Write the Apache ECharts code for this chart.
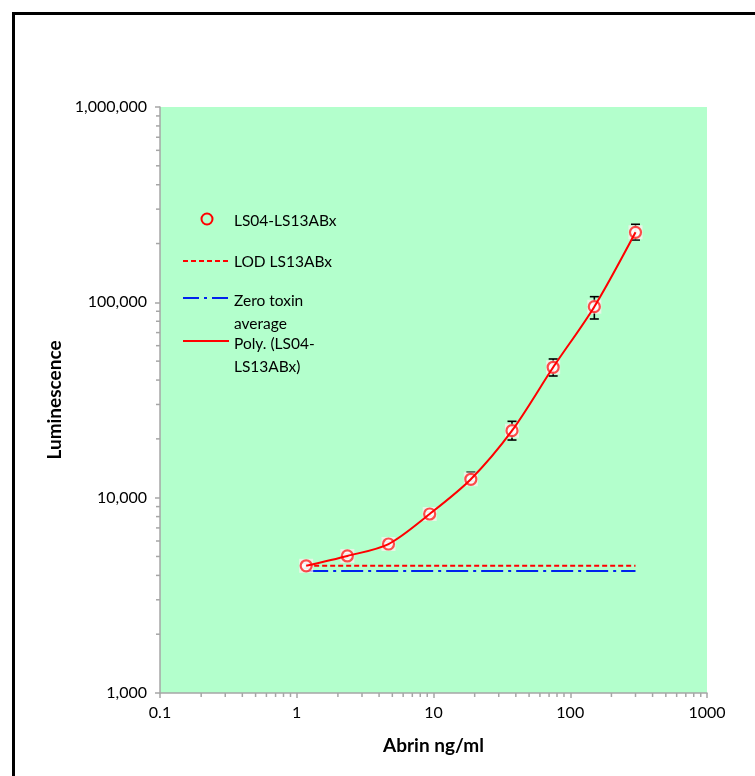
<!DOCTYPE html>
<html>
<head>
<meta charset="utf-8">
<script src="https://cdn.jsdelivr.net/npm/echarts@6/dist/echarts.min.js"></script>
<style>
html,body{margin:0;padding:0;background:#fff;}
#chart{width:755px;height:776px;}
</style>
</head>
<body>
<div id="chart"></div>
<script>
// ---- Data ----
const abrinNgMl = [1.171875, 2.34375, 4.6875, 9.375, 18.75, 37.5, 75, 150, 300];
const luminescence = [4480, 5030, 5790, 8250, 12420, 22020, 46500, 95000, 228300];
const errorLow = [4350, 4900, 5650, 8050, 12150, 19730, 41970, 82180, 208500];
const errorHigh = [4620, 5160, 5940, 8450, 13490, 24600, 51280, 106900, 250900];
const lodValue = 4480;
const zeroToxinValue = 4210;
const xMinorTicks = [0.2,0.3,0.4,0.5,0.6,0.7,0.8,0.9,2,3,4,5,6,7,8,9,20,30,40,50,60,70,80,90,200,300,400,500,600,700,800,900];
const yMinorTicks = [2000,3000,4000,5000,6000,7000,8000,9000,20000,30000,40000,50000,60000,70000,80000,90000,200000,300000,400000,500000,600000,700000,800000,900000];
const seriesName = 'LS04-LS13ABx';
const lodName = 'LOD LS13ABx';
const zeroName = 'Zero toxin average';
const trendName = 'Poly. (LS04-LS13ABx)';

const pointData = abrinNgMl.map((x, i) => [x, luminescence[i]]);
const errData = abrinNgMl.map((x, i) => [x, errorLow[i], errorHigh[i]]);
const x0 = abrinNgMl[0], x1 = abrinNgMl[abrinNgMl.length - 1];
const lodData = [[x0, lodValue], [x1, lodValue]];
const zeroData = [[x0, zeroToxinValue], [x1, zeroToxinValue]];

const FONT = 'Lato, "Open Sans", sans-serif';
const axisGrey = '#a6a6a6';

const chart = echarts.init(document.getElementById('chart'), null, {renderer: 'canvas'});
const option = {
  backgroundColor: '#ffffff',
  animation: false,
  grid: {left: 160, top: 107, width: 547, height: 586, show: true, backgroundColor: '#b3ffcc', borderWidth: 0},
  xAxis: {
    type: 'log', logBase: 10, min: 0.1, max: 1000,
    name: 'Abrin ng/ml', nameLocation: 'middle', nameGap: 43,
    nameTextStyle: {fontFamily: FONT, fontWeight: 'bold', fontSize: 19, color: '#000'},
    axisLine: {show: true, lineStyle: {color: axisGrey, width: 1.5}},
    axisTick: {show: true, length: 5, lineStyle: {color: axisGrey, width: 1.5}},
    axisLabel: {fontFamily: FONT, fontSize: 16, color: '#000', margin: 12,
      formatter: v => String(Number(v.toPrecision(6)))},
    splitLine: {show: false}
  },
  yAxis: {
    type: 'log', logBase: 10, min: 1000, max: 1000000,
    name: 'Luminescence', nameLocation: 'middle', nameGap: 92, nameRotate: 90,
    nameTextStyle: {fontFamily: FONT, fontWeight: 'bold', fontSize: 19, color: '#000'},
    axisLine: {show: true, lineStyle: {color: axisGrey, width: 1.5}},
    axisTick: {show: true, length: 5, lineStyle: {color: axisGrey, width: 1.5}},
    axisLabel: {fontFamily: FONT, fontSize: 16, color: '#000', margin: 13,
      formatter: v => Math.round(v).toLocaleString('en-US')},
    splitLine: {show: false}
  },
  series: [
    {
      name: 'xMinor', type: 'custom', clip: false, silent: true, z: 1,
      data: xMinorTicks.map(v => [v, 1000]),
      renderItem: (params, api) => {
        const p = api.coord([api.value(0), api.value(1)]);
        return {type: 'line', shape: {x1: p[0], y1: p[1], x2: p[0], y2: p[1] + 4},
          style: {stroke: axisGrey, lineWidth: 1.5}};
      }
    },
    {
      name: 'yMinor', type: 'custom', clip: false, silent: true, z: 1,
      data: yMinorTicks.map(v => [0.1, v]),
      renderItem: (params, api) => {
        const p = api.coord([api.value(0), api.value(1)]);
        return {type: 'line', shape: {x1: p[0] - 4, y1: p[1], x2: p[0], y2: p[1]},
          style: {stroke: axisGrey, lineWidth: 1.5}};
      }
    },
    {
      name: lodName, type: 'line', data: lodData, symbol: 'none', z: 2,
      lineStyle: {color: '#ff0000', width: 2, type: [5, 3]}
    },
    {
      name: zeroName, type: 'line', data: zeroData, symbol: 'none', z: 2,
      lineStyle: {color: '#0022ee', width: 2, type: [22, 5, 3, 5]}
    },
    {
      name: 'errorBars', type: 'custom', z: 3, silent: true,
      encode: {x: 0, y: [1, 2]},
      data: errData,
      renderItem: (params, api) => {
        const x = api.value(0);
        const lo = api.coord([x, api.value(1)]);
        const hi = api.coord([x, api.value(2)]);
        const w = 4.5;
        const st = {stroke: '#000', lineWidth: 1.6};
        return {type: 'group', children: [
          {type: 'line', shape: {x1: lo[0], y1: lo[1], x2: hi[0], y2: hi[1]}, style: st},
          {type: 'line', shape: {x1: lo[0] - w, y1: lo[1], x2: lo[0] + w, y2: lo[1]}, style: st},
          {type: 'line', shape: {x1: hi[0] - w, y1: hi[1], x2: hi[0] + w, y2: hi[1]}, style: st}
        ]};
      }
    },
    {
      name: 'markerBg', type: 'scatter', data: pointData, symbol: 'rect', symbolSize: 14, z: 4,
      silent: true, itemStyle: {color: 'rgba(255,240,240,0.9)'}
    },
    {
      name: seriesName, type: 'scatter', data: pointData, symbol: 'circle', symbolSize: 11, z: 5,
      itemStyle: {color: '#ffffff', borderColor: '#ff2020', borderWidth: 2.2}
    },
    {
      name: trendName, type: 'line', data: pointData, symbol: 'none', z: 6,
      smooth: 0.3,
      lineStyle: {color: '#ff0000', width: 2}
    }
  ],
  graphic: [
    {type: 'rect', shape: {x: 13.5, y: 13.5, width: 1000, height: 1000},
      style: {fill: 'none', stroke: '#000', lineWidth: 3}, z: 100},
    {type: 'circle', shape: {cx: 207, cy: 219, r: 5.5},
      style: {fill: 'none', stroke: '#ff0000', lineWidth: 2}, z: 100},
    {type: 'text', left: 234, top: 213, z: 100,
      style: {text: 'LS04-LS13ABx', font: '15.5px ' + FONT, fill: '#000'}},
    {type: 'line', shape: {x1: 183, y1: 261, x2: 229, y2: 261},
      style: {stroke: '#ff0000', lineWidth: 2, lineDash: [5, 3]}, z: 100},
    {type: 'text', left: 234, top: 254, z: 100,
      style: {text: 'LOD LS13ABx', font: '15.5px ' + FONT, fill: '#000'}},
    {type: 'line', shape: {x1: 183, y1: 298, x2: 229, y2: 298},
      style: {stroke: '#0022ee', lineWidth: 2, lineDash: [16, 5, 3, 5]}, z: 100},
    {type: 'text', left: 234, top: 289, z: 100,
      style: {text: 'Zero toxin\naverage', font: '15.5px ' + FONT, fill: '#000', lineHeight: 23}},
    {type: 'line', shape: {x1: 183, y1: 341, x2: 229, y2: 341},
      style: {stroke: '#ff0000', lineWidth: 2}, z: 100},
    {type: 'text', left: 234, top: 332, z: 100,
      style: {text: 'Poly. (LS04-\nLS13ABx)', font: '15.5px ' + FONT, fill: '#000', lineHeight: 23}}
  ]
};
chart.setOption(option);
</script>
</body>
</html>
